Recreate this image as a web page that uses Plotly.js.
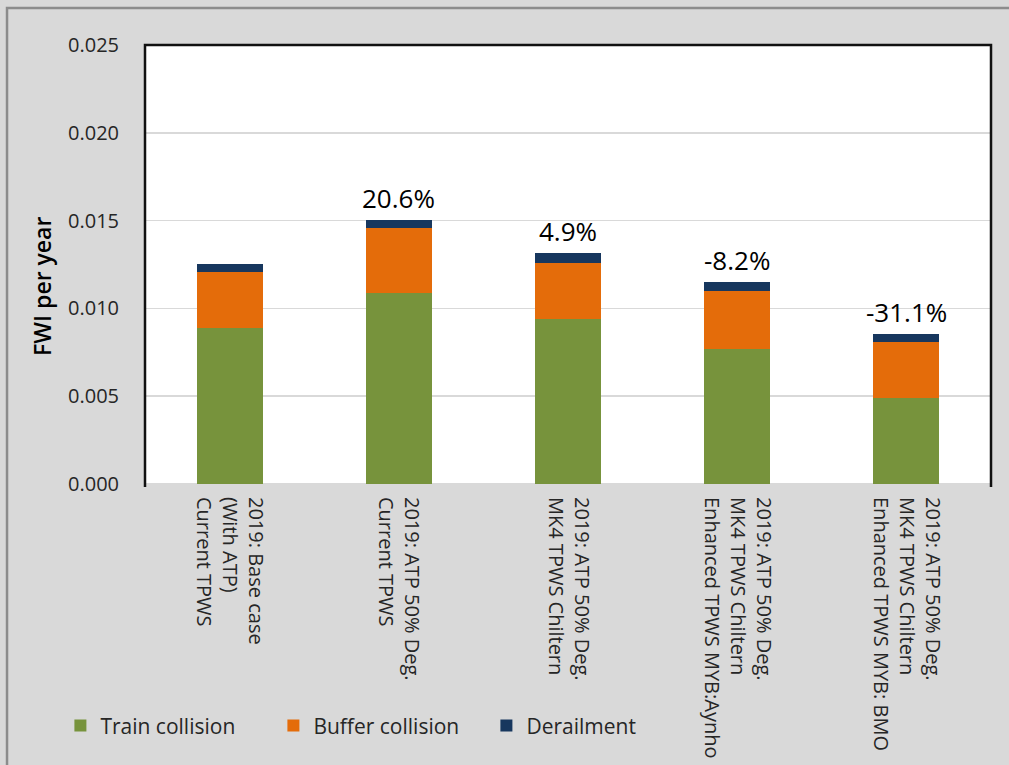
<!DOCTYPE html>
<html>
<head>
<meta charset="utf-8">
<script src="https://cdn.plot.ly/plotly-3.0.1.min.js"></script>
<style>
  html, body { margin: 0; padding: 0; background: #d9d9d9; }
  #chart { width: 1009px; height: 765px; }
</style>
</head>
<body>
<div id="chart"></div>
<script>
const categories = [
  "2019: Base case<br>(With ATP)<br>Current TPWS",
  "2019: ATP 50% Deg.<br>Current TPWS",
  "2019: ATP 50% Deg.<br>MK4 TPWS Chiltern",
  "2019: ATP 50% Deg.<br>MK4 TPWS Chiltern<br>Enhanced TPWS MYB:Aynho",
  "2019: ATP 50% Deg.<br>MK4 TPWS Chiltern<br>Enhanced TPWS MYB: BMO"
];
const trainCollision  = [0.0089, 0.0109, 0.0094, 0.0077, 0.0049];
const bufferCollision = [0.00315, 0.0037, 0.0032, 0.0033, 0.0032];
const derailment      = [0.00046, 0.00045, 0.00053, 0.0005, 0.00047];
const changeLabels    = ["", "20.6%", "4.9%", "-8.2%", "-31.1%"];
const yTickValues     = [0, 0.005, 0.010, 0.015, 0.020, 0.025];

const FONT = "Open Sans, Liberation Sans, sans-serif";

const traces = [
  { type: "bar", name: "Train collision", x: categories, y: trainCollision,
    marker: { color: "#77933c" } },
  { type: "bar", name: "Buffer collision", x: categories, y: bufferCollision,
    marker: { color: "#e46c0a" } },
  { type: "bar", name: "Derailment", x: categories, y: derailment,
    marker: { color: "#17375e" } }
];

const totals = categories.map((c, i) => trainCollision[i] + bufferCollision[i] + derailment[i]);

const annotations = categories.map((c, i) => ({
  x: c, y: totals[i], xref: "x", yref: "y",
  text: changeLabels[i], showarrow: false,
  yanchor: "bottom", yshift: 2,
  font: { family: FONT, size: 26, color: "#000" }
}));
annotations.push({
  xref: "paper", yref: "paper", x: -0.1217, y: 0.449,
  text: "FWI per year", textangle: -90, showarrow: false,
  xanchor: "center", yanchor: "middle",
  font: { family: FONT, size: 23, color: "#000", weight: 600 }
});

const layout = {
  width: 1009, height: 765,
  paper_bgcolor: "#d9d9d9", plot_bgcolor: "#ffffff",
  margin: { l: 145, r: 18, t: 45, b: 281 },
  barmode: "stack", bargap: 0.61,
  font: { family: FONT, color: "#404040" },
  showlegend: true,
  legend: {
    orientation: "h", x: -0.1, xanchor: "left", y: -0.551, yanchor: "middle",
    font: { family: FONT, size: 21, color: "#262626" },
    bgcolor: "rgba(0,0,0,0)", traceorder: "normal",
    entrywidth: 168, entrywidthmode: "pixels"
  },
  xaxis: {
    type: "category", tickangle: 90, showgrid: false, zeroline: false,
    showline: false, ticks: "", ticklabelstandoff: 12,
    tickfont: { family: FONT, size: 20, color: "#262626" }
  },
  yaxis: {
    range: [0, 0.025], tickvals: yTickValues, tickformat: ".3f",
    showgrid: true, gridcolor: "#d9d9d9", gridwidth: 1.5,
    zeroline: true, zerolinecolor: "#d9d9d9", zerolinewidth: 1.5,
    showline: false, ticks: "", ticklabelstandoff: 25,
    tickfont: { family: FONT, size: 20, color: "#262626" }
  },
  shapes: [
    { type: "path", xref: "paper", yref: "paper",
      path: "M0,-0.007 L0,1 L1,1 L1,-0.007",
      line: { color: "#111", width: 2.5 } },
    { type: "path", xref: "paper", yref: "paper",
      path: "M-0.1631,-0.7 L-0.1631,1.0843 L1.05,1.0843",
      line: { color: "#8c8c8c", width: 2.5 } }
  ],
  annotations: annotations
};

Plotly.newPlot("chart", traces, layout, { displayModeBar: false, staticPlot: true });
</script>
</body>
</html>
